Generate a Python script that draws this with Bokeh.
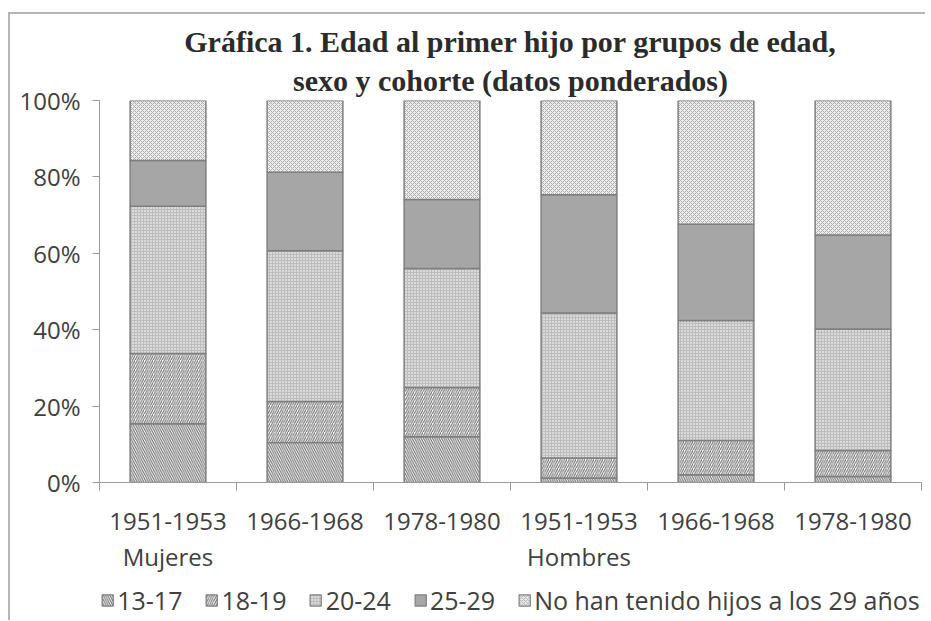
from bokeh.plotting import figure
from bokeh.models import (ColumnDataSource, Range1d, LinearAxis, FixedTicker,
                          PrintfTickFormatter, Legend, LegendItem, Title)
from bokeh.layouts import column
from bokeh.transform import stack
from bokeh.embed import file_html
from bokeh.resources import INLINE

# ---- data (percent of each cohort) ----
cohorts = ["1951-1953", "1966-1968", "1978-1980", "1951-1953", "1966-1968", "1978-1980"]
sexes = ["Mujeres", "Hombres"]
sex_first_index = [0, 3]
series = ["13-17", "18-19", "20-24", "25-29", "No han tenido hijos a los 29 años"]
v_13_17 = [15.4, 10.5, 12.0, 1.2, 2.0, 1.6]
v_18_19 = [18.4, 10.7, 12.9, 5.2, 9.0, 6.8]
v_20_24 = [38.5, 39.5, 31.1, 38.0, 31.4, 31.8]
v_25_29 = [12.0, 20.5, 18.1, 30.9, 25.2, 24.6]
v_none = [15.7, 18.8, 25.9, 24.7, 32.4, 35.2]
y_ticks = [0, 20, 40, 60, 80, 100]
title_lines = ["Gráfica 1. Edad al primer hijo por grupos de edad,",
               "sexo y cohorte (datos ponderados)"]

keys = ["s0", "s1", "s2", "s3", "s4"]
n = len(cohorts)
xs = [i + 0.5 for i in range(n)]
src = ColumnDataSource(dict(x=xs, s0=v_13_17, s1=v_18_19, s2=v_20_24, s3=v_25_29, s4=v_none))

TXT = "#404040"
FONT = "Open Sans"
FS = "24px"
FRAME = "#b5b5b5"

p = figure(width=925, height=580, output_backend="svg", toolbar_location=None,
           title=None, x_axis_type=None, y_axis_type=None,
           x_range=Range1d(0, n), y_range=Range1d(0, 100),
           min_border_left=99, min_border_right=4, min_border_top=100, min_border_bottom=98)
p.outline_line_color = None
p.background_fill_color = "white"
p.border_fill_alpha = 0
# outer chart border (top and left edges), drawn as the element's CSS background
p.styles = {
    "background-color": "white",
    "background-image": f"linear-gradient({FRAME},{FRAME}), linear-gradient({FRAME},{FRAME})",
    "background-position": "8px 12px, 8px 12px",
    "background-size": "2000px 2px, 2px 2000px",
    "background-repeat": "no-repeat, no-repeat",
}

for line, sb in [(title_lines[1], 7), (title_lines[0], 2)]:
    p.add_layout(Title(text=line, align="center", text_font="Liberation Serif",
                       text_font_style="bold", text_font_size="30px",
                       text_color="#2b2b2b", standoff=sb), "above")

# y axis
yax = LinearAxis(ticker=FixedTicker(ticks=y_ticks), formatter=PrintfTickFormatter(format="%d%%"))
yax.axis_line_color = "#9a9a9a"
yax.major_tick_line_color = "#9a9a9a"
yax.major_tick_out = 7
yax.major_tick_in = 0
yax.minor_tick_line_color = None
yax.major_label_standoff = 12
yax.major_label_text_font = FONT
yax.major_label_text_font_size = FS
yax.major_label_text_color = TXT
p.add_layout(yax, "left")
p.ygrid.grid_line_color = "#b0b0b0"
p.ygrid.ticker = yax.ticker
p.xgrid.grid_line_color = None

# x axis: cohort labels, ticks at category boundaries (minor ticks)
xax = LinearAxis(ticker=FixedTicker(ticks=xs, minor_ticks=list(range(n + 1))))
xax.major_label_overrides = {x: c for x, c in zip(xs, cohorts)}
xax.axis_line_color = "#9a9a9a"
xax.major_tick_line_color = None
xax.major_tick_out = 0
xax.major_tick_in = 0
xax.minor_tick_line_color = "#9a9a9a"
xax.minor_tick_out = 8
xax.minor_tick_in = 0
xax.major_label_standoff = 22
xax.major_label_text_font = FONT
xax.major_label_text_font_size = FS
xax.major_label_text_color = TXT
p.add_layout(xax, "below")

# x axis: sex labels
sax = LinearAxis(ticker=FixedTicker(ticks=[xs[i] for i in sex_first_index]))
sax.major_label_overrides = {xs[i]: s for i, s in zip(sex_first_index, sexes)}
sax.axis_line_color = None
sax.major_tick_line_color = None
sax.minor_tick_line_color = None
sax.major_tick_out = 0
sax.major_label_standoff = 7
sax.major_label_text_font = FONT
sax.major_label_text_font_size = FS
sax.major_label_text_color = TXT
p.add_layout(sax, "below")

styles = [
    dict(fill_color="white", hatch_pattern="\\", hatch_scale=4.5, hatch_color="#707070", hatch_weight=1.1),
    dict(fill_color="white", hatch_pattern="/", hatch_scale=4.5, hatch_color="#707070", hatch_weight=1.1),
    dict(fill_color="#dadada", hatch_pattern="+", hatch_scale=3, hatch_color="#bdbdbd", hatch_weight=1),
    dict(fill_color="#a6a6a6"),
    dict(fill_color="#ececec", hatch_pattern="x", hatch_scale=4, hatch_color="#b0b0b0", hatch_weight=1),
]

for i, k in enumerate(keys):
    bottom = stack(*keys[:i]) if i > 0 else 0
    p.vbar(x="x", width=0.553, bottom=bottom, top=stack(*keys[:i + 1]), source=src,
           line_color="#7f7f7f", line_width=1.5, **styles[i])

# ---- legend strip (separate small figure; its hidden renderers only supply swatches) ----
lf = figure(width=925, height=40, output_backend="svg", toolbar_location=None,
            title=None, x_axis_type=None, y_axis_type=None,
            x_range=Range1d(0, n), y_range=Range1d(0, 100),
            min_border_left=84, min_border_right=4, min_border_top=0, min_border_bottom=0)
lf.outline_line_color = None
lf.xgrid.grid_line_color = None
lf.ygrid.grid_line_color = None
lf.border_fill_alpha = 0
lf.background_fill_alpha = 0
lf.styles = {
    "background-color": "white",
    "background-image": f"linear-gradient({FRAME},{FRAME})",
    "background-position": "8px 0px",
    "background-size": "2px 2000px",
    "background-repeat": "no-repeat",
}
items = []
for i, name in enumerate(series):
    bottom = stack(*keys[:i]) if i > 0 else 0
    r = lf.vbar(x="x", width=0.553, bottom=bottom, top=stack(*keys[:i + 1]), source=src,
                line_color="#7f7f7f", line_width=1.2, visible=False, **styles[i])
    items.append(LegendItem(label=name, renderers=[r]))

legend = Legend(items=items, orientation="horizontal", location="center")
legend.label_text_font = FONT
legend.label_text_font_size = "25px"
legend.label_text_color = TXT
legend.glyph_width = 14
legend.glyph_height = 14
legend.label_standoff = 3
legend.spacing = 22
legend.padding = 0
legend.margin = 0
legend.border_line_color = None
legend.background_fill_alpha = 0
legend.inactive_fill_alpha = 0
lf.add_layout(legend, "center")

layout = column(p, lf, spacing=0)
open("out.html", "w").write(file_html(layout, INLINE))
